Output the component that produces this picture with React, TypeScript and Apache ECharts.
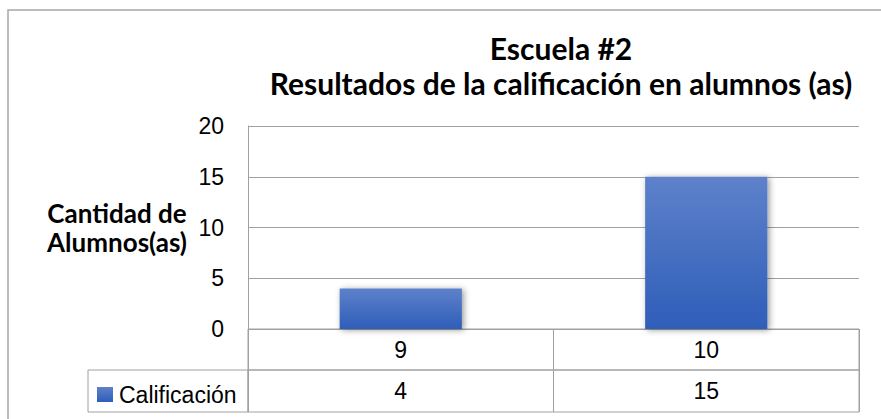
import React, { useEffect, useRef } from "react";
import * as echarts from "echarts";

const titleLines = ["Escuela #2", "Resultados de la calificación en alumnos (as)"];
const yAxisTitle = ["Cantidad de", "Alumnos(as)"];
const categories = ["9", "10"];
const seriesName = "Calificación";
const values = [4, 15];
const yMin = 0;
const yMax = 20;
const yStep = 5;

const GRID = "#a0a0a0";
const NUM_FONT = "'Liberation Sans', Arial, sans-serif";
const TITLE_FONT = "Lato, 'Noto Sans', sans-serif";

export default function App() {
  const ref = useRef<HTMLDivElement>(null);

  useEffect(() => {
    if (!ref.current) return;
    const chart = echarts.init(ref.current, null, { renderer: "svg" });
    const tableAxis = (gridIndex: number, data: string[]) => ({
      gridIndex,
      type: "category",
      data,
      position: "top",
      axisLine: { show: false },
      axisTick: { show: false },
      splitLine: { show: true, lineStyle: { color: GRID, width: 1 } },
      axisLabel: {
        inside: true,
        margin: 9,
        fontSize: 23,
        color: "#000",
        fontFamily: NUM_FONT,
      },
    });
    chart.setOption({
      animation: false,
      backgroundColor: "#fff",
      title: {
        text: titleLines.join("\n"),
        left: 556,
        top: 25,
        textAlign: "center",
        textStyle: {
          fontFamily: TITLE_FONT,
          fontWeight: "bold",
          fontSize: 30,
          lineHeight: 35,
          color: "#000",
        },
      },
      legend: {
        left: 97,
        top: 383,
        padding: 0,
        itemWidth: 16,
        itemHeight: 15,
        data: [{ name: seriesName, icon: "rect" }],
        textStyle: { fontSize: 23, fontFamily: NUM_FONT, color: "#000", padding: [0, 0, 0, 1] },
      },
      grid: [
        { left: 248, top: 126, width: 611, height: 203 },
        { left: 248, top: 329, width: 611, height: 41, show: true, borderColor: GRID, borderWidth: 1 },
        { left: 248, top: 370, width: 611, height: 42, show: true, borderColor: GRID, borderWidth: 1 },
      ],
      xAxis: [
        {
          gridIndex: 0,
          type: "category",
          data: categories,
          axisLine: { show: false },
          axisTick: { show: false },
          axisLabel: { show: false },
        },
        tableAxis(1, categories),
        tableAxis(2, values.map(String)),
      ],
      yAxis: [
        {
          gridIndex: 0,
          type: "value",
          min: yMin,
          max: yMax,
          interval: yStep,
          axisLine: { show: true, lineStyle: { color: GRID, width: 1 } },
          axisTick: { show: false },
          splitLine: { lineStyle: { color: GRID, width: 1 } },
          axisLabel: { fontSize: 23, margin: 24, color: "#000", fontFamily: NUM_FONT },
          name: yAxisTitle.join("\n"),
          nameLocation: "middle",
          nameRotate: 0,
          nameGap: 131,
          nameTextStyle: {
            fontFamily: TITLE_FONT,
            fontWeight: "bold",
            fontSize: 26,
            lineHeight: 29,
            align: "center",
            verticalAlign: "middle",
            color: "#000",
            padding: [34, 0, 0, 0],
          },
        },
        { gridIndex: 1, type: "value", show: false },
        { gridIndex: 2, type: "value", show: false },
      ],
      series: [
        {
          name: seriesName,
          type: "bar",
          xAxisIndex: 0,
          yAxisIndex: 0,
          barWidth: "40%",
          data: values,
          itemStyle: {
            color: new echarts.graphic.LinearGradient(0, 0, 0, 1, [
              { offset: 0, color: "#5e81ca" },
              { offset: 1, color: "#2e5eb9" },
            ]),
            shadowBlur: 6,
            shadowColor: "rgba(0,0,0,0.4)",
            shadowOffsetX: 2,
            shadowOffsetY: 1,
          },
        },
      ],
      graphic: [
        {
          type: "rect",
          shape: { x: 8, y: 10, width: 1000, height: 500 },
          style: { fill: "none", stroke: "#a6a6a6", lineWidth: 1.5 },
          silent: true,
        },
        {
          type: "rect",
          shape: { x: 88, y: 370, width: 160, height: 42 },
          style: { fill: "none", stroke: GRID, lineWidth: 1 },
          silent: true,
        },
      ],
    });
    return () => chart.dispose();
  }, []);

  return (
    <div
      ref={ref}
      style={{ position: "fixed", left: 0, top: 0, width: 881, height: 419, background: "#fff" }}
    />
  );
}
